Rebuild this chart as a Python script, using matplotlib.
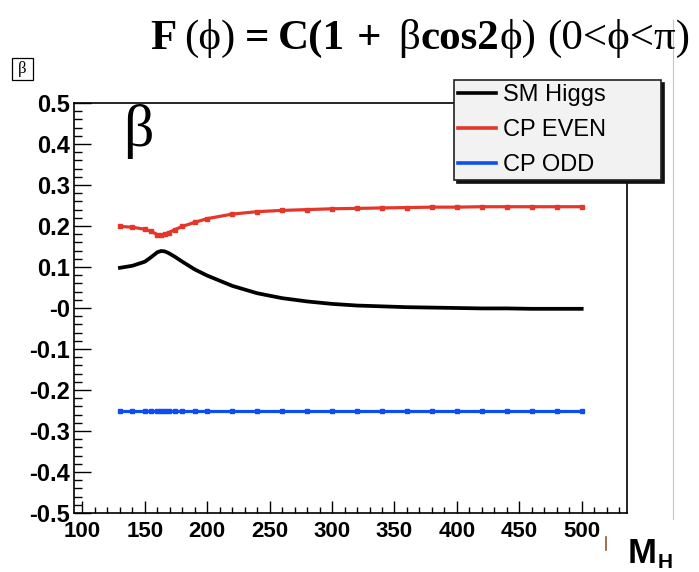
import matplotlib
matplotlib.use('Agg')
import matplotlib.pyplot as plt
from matplotlib.ticker import MultipleLocator, FixedLocator, FixedFormatter
from matplotlib.lines import Line2D
from matplotlib.patches import Rectangle
from matplotlib.transforms import IdentityTransform
from matplotlib.font_manager import FontProperties

# ---------------- data ----------------
mass = [130, 140, 150, 155, 160, 163, 166, 169, 174, 180, 190, 200, 220, 240,
        260, 280, 300, 320, 340, 360, 380, 400, 420, 440, 460, 480, 500]
beta_sm = [0.098, 0.103, 0.113, 0.124, 0.136, 0.139, 0.138, 0.134, 0.125, 0.113,
           0.094, 0.079, 0.054, 0.036, 0.024, 0.016, 0.010, 0.006, 0.004, 0.002,
           0.001, 0.000, -0.001, -0.001, -0.002, -0.002, -0.002]
beta_even = [0.199, 0.197, 0.192, 0.187, 0.179, 0.177, 0.180, 0.184, 0.191, 0.199,
             0.209, 0.218, 0.229, 0.235, 0.238, 0.240, 0.242, 0.243, 0.244, 0.245,
             0.246, 0.246, 0.247, 0.247, 0.247, 0.247, 0.247]
beta_odd = [-0.25, -0.25, -0.25, -0.25, -0.25, -0.25, -0.25, -0.25, -0.25, -0.25,
            -0.25, -0.25, -0.25, -0.25, -0.25, -0.25, -0.25, -0.25, -0.25, -0.25,
            -0.25, -0.25, -0.25, -0.25, -0.25, -0.25, -0.25]
series_labels = ['SM Higgs', 'CP EVEN', 'CP ODD']
xticks = [100, 150, 200, 250, 300, 350, 400, 450, 500]
xtick_labels = ['100', '150', '200', '250', '300', '350', '400', '450', '500']
yticks = [-0.5, -0.4, -0.3, -0.2, -0.1, 0.0, 0.1, 0.2, 0.3, 0.4, 0.5]
ytick_labels = ['-0.5', '-0.4', '-0.3', '-0.2', '-0.1', '-0', '0.1', '0.2', '0.3', '0.4', '0.5']

# ---------------- style ----------------
W, H = 699, 572
RED = '#e4372a'
BLUE = '#0d4df2'
SANS = 'Liberation Sans'
SERIF = ['Liberation Serif', 'DejaVu Serif']

fig = plt.figure(figsize=(W / 100, H / 100), dpi=100)
fig.patch.set_facecolor('white')


def fx(px):
    return px / W


def fy(py):
    return 1 - py / H


ax = fig.add_axes([fx(74), fy(513), fx(627) - fx(74), fy(103) - fy(513)])
ax.plot(mass, beta_sm, color='black', lw=2.7, solid_joinstyle='round')
ax.plot(mass, beta_even, color=RED, lw=2.3, marker='s', ms=3.3, mec=RED, mfc=RED)
ax.plot(mass, beta_odd, color=BLUE, lw=2.3, marker='s', ms=3.3, mec=BLUE, mfc=BLUE)

ax.set_xlim(93.2, 536.3)
ax.set_ylim(-0.5, 0.5)
ax.xaxis.set_major_locator(FixedLocator(xticks))
ax.xaxis.set_major_formatter(FixedFormatter(xtick_labels))
ax.xaxis.set_minor_locator(MultipleLocator(10))
ax.yaxis.set_major_locator(FixedLocator(yticks))
ax.yaxis.set_major_formatter(FixedFormatter(ytick_labels))
ax.yaxis.set_minor_locator(MultipleLocator(0.02))

ax.tick_params(which='both', direction='in', top=False, right=False, colors='black')
ax.tick_params(axis='x', which='major', length=8.6, width=1.0, pad=6)
ax.tick_params(axis='x', which='minor', length=4.3, width=1.0)
ax.tick_params(axis='y', which='major', length=12, width=1.0, pad=3)
ax.tick_params(axis='y', which='minor', length=5.8, width=1.0)
for lab in ax.get_xticklabels():
    lab.set_fontfamily(SANS)
    lab.set_fontweight('bold')
    lab.set_fontsize(16)
for lab in ax.get_yticklabels():
    lab.set_fontfamily(SANS)
    lab.set_fontweight('bold')
    lab.set_fontsize(17)
for sp in ax.spines.values():
    sp.set_linewidth(1.2)
    sp.set_color('black')

# big beta inside the frame
fig.text(fx(123), fy(146), 'β', family=SERIF, fontsize=43, ha='left', va='baseline')

# legend
handles = [Line2D([], [], color='black', lw=2.6),
           Line2D([], [], color=RED, lw=2.6),
           Line2D([], [], color=BLUE, lw=2.6)]
leg = fig.legend(handles, series_labels, loc='upper left',
                 bbox_to_anchor=(fx(454), fy(80), fx(661) - fx(454), 0.0001),
                 bbox_transform=fig.transFigure, mode='expand',
                 frameon=True, fancybox=False, shadow={'color': '#111111', 'alpha': 1},
                 facecolor='#f2f2f2', edgecolor='#222222', framealpha=1,
                 borderaxespad=0, borderpad=0.18, handlelength=1.6, handletextpad=0.3,
                 labelspacing=0.55, prop=FontProperties(family=SANS, size=17))
leg.get_frame().set_linewidth(1.2)

# decorations
fig.add_artist(Line2D([fx(673), fx(673)], [fy(20), fy(519)], transform=fig.transFigure,
                      color='#c4c4c4', lw=0.8))
fig.add_artist(Line2D([fx(606), fx(606)], [fy(537), fy(550)], transform=fig.transFigure,
                      color='#8b5a2b', lw=1.2))
fig.add_artist(Rectangle((fx(12), fy(80)), fx(33) - fx(12), fy(58) - fy(80),
                         transform=fig.transFigure, fill=False, ec='black', lw=0.9))
fig.text(fx(22.5), fy(69), 'β', family=SERIF, fontsize=12, ha='center', va='center')

renderer = fig.canvas.get_renderer()


def seq(pieces, x0, ybase):
    x = x0
    out = []
    for s, kw, gap, dy in pieces:
        t = fig.text(x, H - ybase - dy, s, transform=IdentityTransform(),
                     ha='left', va='baseline', **kw)
        bb = t.get_window_extent(renderer)
        x = bb.x1 + gap
        out.append(t)
    return out


TS = 31
bold = dict(family=SERIF, fontsize=TS, fontweight='bold')
reg = dict(family=SERIF, fontsize=TS)
seq([('F', bold, 8, 0), ('(ϕ)', reg, 9, 0), ('=', bold, 9, 0), ('C(1', bold, 12, 0),
     ('+', bold, 17, 0), ('β', reg, 0, 0), ('cos2', bold, 0, 0), ('ϕ)', reg, 11, 0),
     ('(0<ϕ<π)', reg, 0, 0)], 150, 49)

seq([('M', dict(family=SANS, fontsize=25, fontweight='bold'), 1, 0),
     ('H', dict(family=SANS, fontsize=15, fontweight='bold'), 0, 5)], 628, 563)

fig.savefig('out.png', dpi=100, facecolor='white')
